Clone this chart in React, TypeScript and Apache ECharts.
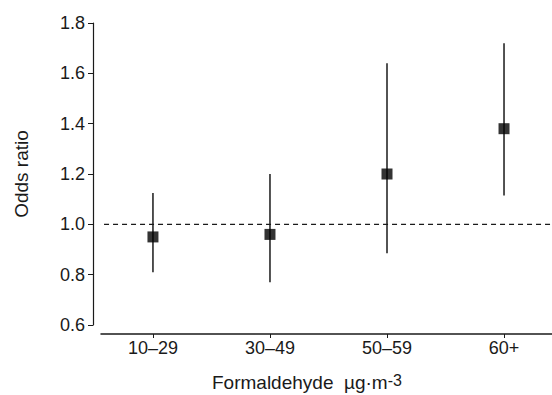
import React, { useEffect, useRef } from "react";
import * as echarts from "echarts";

const categories = ["10–29", "30–49", "50–59", "60+"];
const oddsRatio = [0.95, 0.96, 1.2, 1.38];
const ciLow = [0.81, 0.77, 0.885, 1.115];
const ciHigh = [1.125, 1.2, 1.64, 1.72];
const yTicks = [0.6, 0.8, 1.0, 1.2, 1.4, 1.6, 1.8];
const referenceLine = 1.0;

const FONT = "'Liberation Sans', Arial, sans-serif";
const INK = "#1a1a1a";

export default function App() {
  const ref = useRef<HTMLDivElement>(null);
  useEffect(() => {
    if (!ref.current) return;
    const chart = echarts.init(ref.current, null, { renderer: "svg" });
    const xPos = categories.map((_, i) => i + 1);
    const xMin = 0.556;
    const xMax = 4.41;
    chart.setOption({
      animation: false,
      backgroundColor: "#ffffff",
      grid: { left: 101, right: 0, top: 23, bottom: 70 },
      xAxis: {
        type: "value",
        min: xMin,
        max: xMax,
        offset: 9,
        splitLine: { show: false },
        axisLine: { show: true, lineStyle: { color: INK, width: 1.5 } },
        axisTick: { show: true, customValues: xPos, length: 4, lineStyle: { color: INK } },
        axisLabel: {
          customValues: xPos,
          formatter: (v: number) => categories[Math.round(v) - 1] ?? "",
          color: INK,
          fontFamily: FONT,
          fontSize: 18,
          margin: 5,
        },
      },
      yAxis: {
        type: "value",
        min: yTicks[0],
        max: yTicks[yTicks.length - 1],
        interval: 0.2,
        offset: 8,
        splitLine: { show: false },
        axisLine: { show: true, lineStyle: { color: INK, width: 1.2 } },
        axisTick: { show: true, length: 5, lineStyle: { color: INK } },
        axisLabel: {
          formatter: (v: number) => v.toFixed(1),
          color: INK,
          fontFamily: FONT,
          fontSize: 18,
          margin: 8,
        },
        name: "Odds ratio",
        nameLocation: "middle",
        nameGap: 62,
        nameTextStyle: { color: INK, fontFamily: FONT, fontSize: 19 },
      },
      graphic: [
        {
          type: "text",
          left: 212,
          top: 372,
          style: {
            text: "Formaldehyde  µg·m{sup|-3}",
            fill: INK,
            font: `19px ${FONT}`,
            rich: {
              sup: { fontSize: 16, fontFamily: FONT, fill: INK, padding: [0, 0, 5, 0] },
            },
          },
        },
      ],
      series: [
        {
          type: "line",
          clip: false,
          silent: true,
          symbol: "none",
          data: [
            [0.505, referenceLine],
            [xMax, referenceLine],
          ],
          lineStyle: { color: INK, type: [5, 4], width: 1.4 },
          z: 1,
        },
        {
          type: "custom",
          data: xPos.map((x, i) => [x, ciLow[i], ciHigh[i]]),
          renderItem: (params: any, api: any) => {
            const lo = api.coord([api.value(0), api.value(1)]);
            const hi = api.coord([api.value(0), api.value(2)]);
            return {
              type: "line",
              shape: { x1: lo[0], y1: lo[1], x2: hi[0], y2: hi[1] },
              style: { stroke: INK, lineWidth: 1.5 },
            };
          },
          z: 2,
        },
        {
          type: "scatter",
          data: xPos.map((x, i) => [x, oddsRatio[i]]),
          symbol: "rect",
          symbolSize: 11,
          itemStyle: { color: "#000000" },
          z: 3,
        },
      ],
    });
    return () => chart.dispose();
  }, []);
  return <div ref={ref} style={{ width: 552, height: 395, position: "absolute", left: 0, top: 0 }} />;
}
